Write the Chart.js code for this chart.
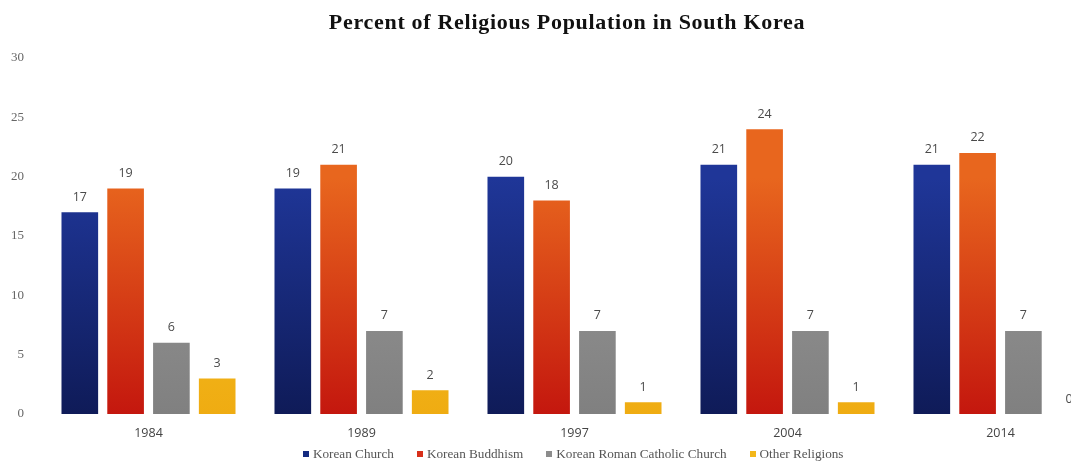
<!DOCTYPE html>
<html>
<head>
<meta charset="utf-8">
<script src="https://cdn.jsdelivr.net/npm/chart.js@4"></script>
<style>
  html, body { margin: 0; padding: 0; background: #fff; overflow: hidden; width: 1071px; height: 462px; }
  #wrap { position: absolute; left: 0; top: 0; width: 1110px; height: 462px; }
  #title { position: absolute; top: 9px; left: 0; width: 1134px; text-align: center;
           font: bold 22px "Liberation Serif", "Times New Roman", serif; letter-spacing: 0.7px; color: #111; }
  #legend { position: absolute; top: 446px; left: 303px; display: flex; align-items: center;
            font: 13.2px "Liberation Serif", "Times New Roman", serif; color: #555; white-space: nowrap; }
  #legend .item { display: flex; align-items: center; margin-right: 23px; }
  #legend .sw { width: 6px; height: 6px; margin-right: 4px; display: inline-block; }
</style>
</head>
<body>
<div id="wrap"><canvas id="c"></canvas></div>
<div id="title">Percent of Religious Population in South Korea</div>
<div id="legend"></div>
<script>
const categories = ['1984', '1989', '1997', '2004', '2014'];
const koreanChurch = [17, 19, 20, 21, 21];
const koreanBuddhism = [19, 21, 18, 24, 22];
const romanCatholic = [6, 7, 7, 7, 7];
const otherReligions = [3, 2, 1, 1, 0];
const seriesNames = ['Korean Church', 'Korean Buddhism', 'Korean Roman Catholic Church', 'Other Religions'];
const yTicks = [0, 5, 10, 15, 20, 25, 30];

const solid = ['#142a80', '#d8301a', '#8c8c8c', '#f3b71a'];
const grads = [
  ['#1f3698', '#0f1b58'],
  ['#e8661e', '#c4170e'],
  ['#999999', '#808080'],
  ['#f7c226', '#efac12']
];

function gradFor(i) {
  return function (ctx) {
    const chart = ctx.chart;
    const area = chart.chartArea;
    if (!area) return solid[i];
    const g = chart.ctx.createLinearGradient(0, area.top + 120, 0, area.bottom);
    g.addColorStop(0, grads[i][0]);
    g.addColorStop(1, grads[i][1]);
    return g;
  };
}

const valueLabels = {
  id: 'valueLabels',
  afterDatasetsDraw(chart) {
    const ctx = chart.ctx;
    ctx.save();
    ctx.font = '12.5px "Open Sans", "Liberation Sans", sans-serif';
    ctx.fillStyle = '#4a4a4a';
    ctx.textAlign = 'center';
    ctx.textBaseline = 'middle';
    chart.data.datasets.forEach((ds, di) => {
      const meta = chart.getDatasetMeta(di);
      meta.data.forEach((el, i) => {
        ctx.fillText(String(ds.data[i]), el.x, el.y - 15);
      });
    });
    ctx.restore();
  }
};

const seriesData = [koreanChurch, koreanBuddhism, romanCatholic, otherReligions];

// HTML legend built from series names
const legendEl = document.getElementById('legend');
seriesNames.forEach((name, i) => {
  const it = document.createElement('span');
  it.className = 'item';
  const sw = document.createElement('span');
  sw.className = 'sw';
  sw.style.background = solid[i];
  it.appendChild(sw);
  it.appendChild(document.createTextNode(name));
  legendEl.appendChild(it);
});

new Chart(document.getElementById('c'), {
  type: 'bar',
  data: {
    labels: categories,
    datasets: seriesData.map((d, i) => ({
      label: seriesNames[i],
      data: d,
      backgroundColor: gradFor(i),
      borderWidth: 0,
      barPercentage: 0.8,
      categoryPercentage: 0.86
    }))
  },
  options: {
    responsive: true,
    maintainAspectRatio: false,
    animation: false,
    layout: { padding: { left: 6, right: 3, top: 58, bottom: 9 } },
    plugins: {
      title: { display: false },
      legend: { display: false },
      tooltip: { enabled: false }
    },
    scales: {
      x: {
        grid: { display: false, drawTicks: false },
        border: { display: false },
        ticks: {
          font: { family: '"Open Sans", "Liberation Sans", sans-serif', size: 12.5 },
          color: '#444',
          padding: 12
        }
      },
      y: {
        min: 0,
        max: 30,
        afterBuildTicks(axis) { axis.ticks = yTicks.map(v => ({ value: v })); },
        afterFit(axis) { axis.width = 36; },
        grid: { display: false, drawTicks: false },
        border: { display: false },
        ticks: {
          font: { family: '"Liberation Serif", "Times New Roman", serif', size: 13 },
          color: '#666',
          padding: 18
        }
      }
    }
  },
  plugins: [valueLabels]
});
</script>
</body>
</html>
